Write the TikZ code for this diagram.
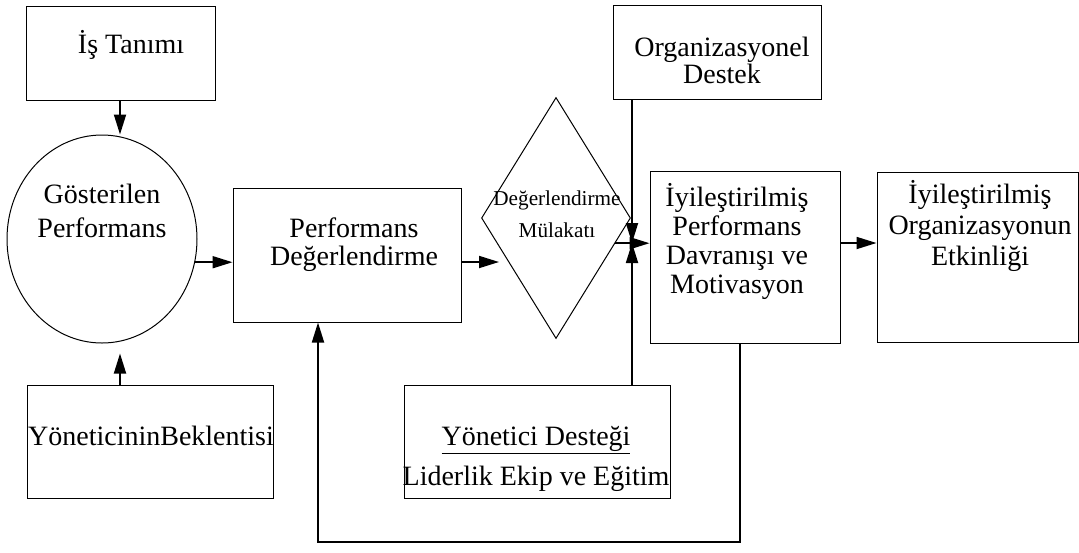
\documentclass[tikz,border=0pt]{standalone}
\usepackage{fontspec}
\setmainfont{Liberation Serif}
\usetikzlibrary{shapes.geometric,arrows.meta}

\newcommand\tightfont{\fontsize{14}{13.2}\selectfont\lineskiplimit=-20pt\relax}

\tikzset{
  box/.style={draw, rectangle, line width=0.5pt, inner sep=0pt},
  txt/.style={inner sep=0pt, align=center, anchor=base},
  arr/.style={line width=0.9pt, -{Triangle[length=10pt,width=6pt]}},
  fb/.style={line width=0.6pt}
}

\begin{document}
\begin{tikzpicture}[x=0.5pt,y=-0.5pt,font=\fontsize{14}{17}\selectfont]
    \useasboundingbox (0,0) rectangle (1079,552);
    % boxes
    \node[box, minimum width=94.5pt, minimum height=47pt] (is) at (120.5,53) {};
    \node[draw, ellipse, line width=0.5pt, inner sep=0pt, minimum width=95pt, minimum height=104pt] (gp) at (102,239) {};
    \node[box, minimum width=123pt, minimum height=56.5pt] (yb) at (150,441.5) {};
    \node[box, minimum width=114pt, minimum height=67pt] (pd) at (347,255) {};
    \node[draw, diamond, line width=0.5pt, inner sep=0pt, minimum width=74.5pt, minimum height=120.5pt] (dm) at (556,218) {};
    \node[box, minimum width=104pt, minimum height=47pt] (od) at (717,52) {};
    \node[box, minimum width=95pt, minimum height=86pt] (ip) at (745,257) {};
    \node[box, minimum width=100.5pt, minimum height=85pt] (oe) at (977.5,257) {};
    \node[box, minimum width=133pt, minimum height=56.5pt] (yd) at (537,441.5) {};
    % texts (placed at the baseline of their last line)
    \node[txt] (isT) at (131,53) {İş Tanımı};
    \node[txt, font=\fontsize{14}{17}\selectfont] (gpT) at (102,237) {Gösterilen\\Performans};
    \node[txt] (ybT) at (151,445) {YöneticininBeklentisi};
    \node[txt, font=\fontsize{14}{14}\selectfont] (pdT) at (354,265) {Performans\\Değerlendirme};
    \node[txt, font=\fontsize{10.6}{16}\selectfont] (dmT) at (557,237) {Değerlendirme\\Mülakatı};
    \node[txt, font=\tightfont] (odT) at (722,83) {Organizasyonel\\Destek};
    \node[txt, font=\fontsize{14}{14.4}\selectfont] (ipT) at (737,293) {İyileştirilmiş\\Performans\\Davranışı ve\\Motivasyon};
    \node[txt, font=\fontsize{14}{15.5}\selectfont] (oeT) at (980,265) {İyileştirilmiş\\Organizasyonun\\Etkinliği};
    \node[txt, font=\fontsize{14}{20}\selectfont] (ydT) at (536,485) {\underline{Yönetici Desteği}\\Liderlik Ekip ve Eğitim};
    % connectors
    \coordinate (colA) at (120,0);
    \coordinate (row) at (0,262);
    \coordinate (dmIn) at (499,262);
    \coordinate (meet) at (632,243);
    \coordinate (fbR) at (740,542);
    \coordinate (fbL) at (318,542);
    \coordinate (fbUp) at (318,400);
    \draw[arr] (is.south -| colA) -- (gp.north -| colA);
    \draw[arr, shorten >=5pt] (yb.north -| colA) -- (gp.south -| colA);
    \draw[arr] (gp.-14) -- (gp.-14 -| pd.west);
    \draw[arr] (pd.east |- row) -- (dmIn);
    \draw[arr] (dm.-23) -- (dm.-23 -| ip.west);
    \draw[arr] (od.south -| meet) -- (meet);
    \draw[arr] (yd.north -| meet) -- (meet);
    \draw[arr] (ip.east |- meet) -- (oe.west |- meet);
    % feedback loop
    \draw[fb] (ip.south -| fbR) -- (fbR) -- (fbL) -- (fbUp);
    \draw[arr] (fbUp) -- (pd.south -| fbL);
\end{tikzpicture}
\end{document}
